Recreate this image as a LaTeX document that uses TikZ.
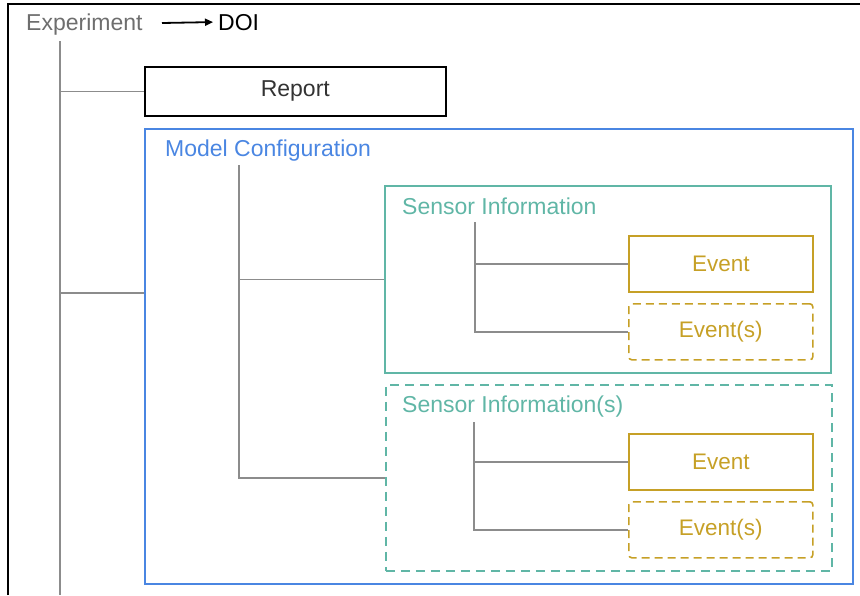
\documentclass[tikz,border=0pt]{standalone}
\usepackage{fontspec}
\setmainfont{Liberation Sans}
\usetikzlibrary{arrows.meta}
\definecolor{cfgblue}{RGB}{74,134,226}
\definecolor{sensteal}{RGB}{96,182,166}
\definecolor{evtgold}{RGB}{198,160,38}
\definecolor{linegray}{RGB}{140,140,140}
\definecolor{labelgray}{RGB}{110,110,110}
\begin{document}
\begin{tikzpicture}[x=1pt, y=-1pt,
  treeline/.style={draw=linegray, line width=1.6pt},
  boxlabel/.style={anchor=base west, inner sep=0pt, font=\fontsize{23}{28}\selectfont},
  boxframe/.style={draw, line width=1.6pt, anchor=north west, inner sep=0pt},
  eventbox/.style={boxframe, draw=evtgold, text=evtgold, minimum width=184pt, minimum height=56pt, font=\fontsize{22.5}{27}\selectfont},
  manybox/.style={dash pattern=on 8pt off 5pt, rounded corners=3pt}]
  \useasboundingbox (0,0) rectangle (860,595);
  % outer frame
  \draw[line width=2pt] (8,595) -- (8,4) -- (860,4);
  % top labels
  \node[boxlabel, text=labelgray] (exp) at (26,30) {Experiment};
  \node[boxlabel] (doi) at (218,30) {DOI};
  \coordinate (doiarrow) at (162,23);
  \draw[-{Triangle[length=8pt,width=7pt]}, line width=1.8pt] (doiarrow) -- ([xshift=-5pt]doi.west);
  % boxes
  \node[boxframe, minimum width=301pt, minimum height=49pt, text={rgb,255:red,51;green,51;blue,51},
        font=\fontsize{23}{28}\selectfont] (report) at (144,66) {Report};
  \node[boxframe, draw=cfgblue, minimum width=708pt, minimum height=455pt] (config) at (144,128) {};
  \node[boxlabel, text=cfgblue] (cfglabel) at (165,156) {Model Configuration};
  \node[boxframe, draw=sensteal, minimum width=446pt, minimum height=187pt] (sensor) at (384,185) {};
  \node[boxlabel, text=sensteal] (sensorlabel) at (402,214) {Sensor Information};
  \node[boxframe, draw=sensteal, dash pattern=on 9pt off 6pt, minimum width=446pt, minimum height=186pt] (sensors) at (385,384) {};
  \node[boxlabel, text=sensteal] (sensorslabel) at (402,412) {Sensor Information(s)};
  \node[eventbox] (evta) at (628,235) {Event};
  \node[eventbox, manybox] (evtsa) at (628,303) {Event(s)};
  \node[eventbox] (evtb) at (628,433) {Event};
  \node[eventbox, manybox] (evtsb) at (628,501) {Event(s)};
  % tree lines
  \coordinate (trunktop) at (60,41);
  \coordinate (trunkend) at (60,595);
  \draw[treeline] (trunktop) -- (trunkend);
  \draw[treeline] (trunktop |- report.west) -- (report.west);
  \draw[treeline] (trunktop |- 0,293) -- (config.west |- 0,293);
  \coordinate (subtrunk) at (239,165);
  \draw[treeline] (subtrunk) |- (sensor.west);
  \draw[treeline] (subtrunk) |- (sensors.west);
  \coordinate (evtrunka) at (475,222);
  \draw[treeline] (evtrunka) |- (evta.west);
  \draw[treeline] (evtrunka) |- (evtsa.west);
  \coordinate (evtrunkb) at (474,422);
  \draw[treeline] (evtrunkb) |- (evtb.west);
  \draw[treeline] (evtrunkb) |- (evtsb.west);
\end{tikzpicture}
\end{document}
